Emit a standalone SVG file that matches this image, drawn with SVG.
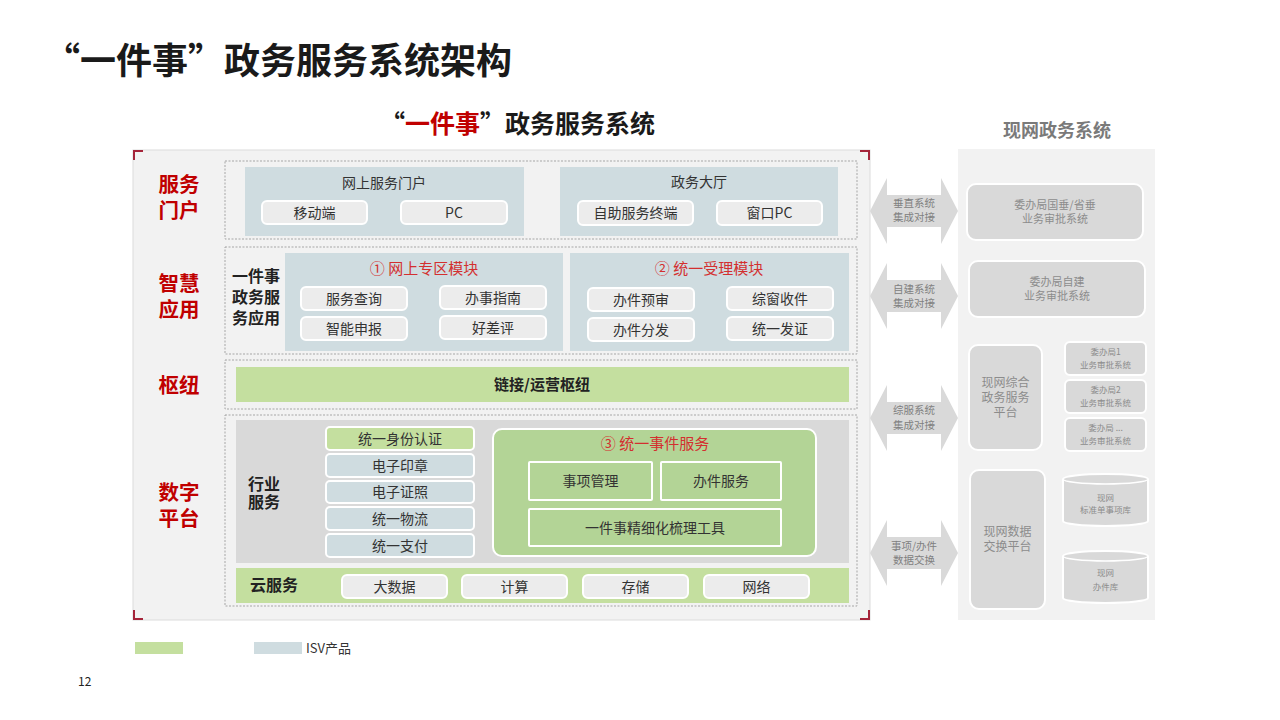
<svg xmlns="http://www.w3.org/2000/svg" width="1280" height="720" viewBox="0 0 1280 720">
<defs>
<style>
text{font-family:"Noto Sans CJK SC","Liberation Sans",sans-serif;}
.t{font-size:14px;fill:#333;text-anchor:middle;}
.red{font-weight:700;font-size:20.5px;fill:#c00000;text-anchor:middle;}
.mod{font-size:15px;fill:#d32f2f;text-anchor:middle;}
.bold{font-weight:700;font-size:16px;fill:#222;}
.btn{fill:#ececec;stroke:#fff;stroke-width:2;}
.isv{fill:#cfdce0;}
.isvb{fill:#cfdce0;stroke:#fff;stroke-width:2;}
.grn{fill:#c4df9f;}
.grnb{fill:#c4df9f;stroke:#fff;stroke-width:2;}
.evt{fill:#b3d496;stroke:#fff;stroke-width:2;}
.row{fill:#f2f2f2;stroke:#a6a6a6;stroke-width:1;stroke-dasharray:2 1.5;}
.corner{fill:none;stroke:#a5243a;stroke-width:2;}
.arr{fill:#d9d9d9;}
.at{font-size:10.5px;fill:#808080;text-anchor:middle;}
.rbox{fill:#d9d9d9;stroke:#fff;stroke-width:2;}
.rt{font-size:11px;fill:#8c8c8c;text-anchor:middle;}
.rs{font-size:8.5px;fill:#8c8c8c;text-anchor:middle;}
.sa{fill:#666;}
</style>
<path id="bigArrow" d="M-44,0 L-27,-33 L-27,-16 L27,-16 L27,-33 L44,0 L27,33 L27,16 L-27,16 L-27,33 Z"/>
<path id="smallArrow" d="M-9,0 L-3,-4 L-3,-1.5 L3,-1.5 L3,-4 L9,0 L3,4 L3,1.5 L-3,1.5 L-3,4 Z"/>
</defs>
<rect width="1280" height="720" fill="#fff"/>

<g id="title">
<text x="44" y="74" style="font-size:36px;font-weight:700;fill:#1a1a1a;">“一件事”政务服务系统架构</text>
</g>
<g id="subtitle">
<text x="380" y="133" style="font-size:25px;font-weight:700;fill:#1a1a1a;">“<tspan fill="#c00000">一件事</tspan>”政务服务系统</text>
</g>

<g id="frame">
<rect x="133" y="150" width="737" height="470" fill="#f2f2f2" stroke="#dcdcdc" stroke-width="1"/>
<path class="corner" d="M134,160 V151 H143"/>
<path class="corner" d="M860,151 H869 V160"/>
<path class="corner" d="M134,610 V619 H143"/>
<path class="corner" d="M860,619 H869 V610"/>
</g>

<g id="labels">
<text class="red"><tspan x="179" y="192">服务</tspan><tspan x="179" y="218">门户</tspan></text>
<text class="red"><tspan x="179" y="291">智慧</tspan><tspan x="179" y="317">应用</tspan></text>
<text class="red" x="179" y="393">枢纽</text>
<text class="red"><tspan x="179" y="500">数字</tspan><tspan x="179" y="526">平台</tspan></text>
</g>

<g id="row-portal">
<rect class="row" x="225" y="161" width="632" height="78"/>
<rect class="isv" x="245" y="167" width="279" height="69"/>
<rect class="isv" x="560" y="167" width="278" height="69"/>
<text class="t" x="384" y="188">网上服务门户</text>
<text class="t" x="699" y="187">政务大厅</text>
<rect class="btn" x="262" y="201" width="105" height="23" rx="5"/>
<text class="t" x="314.5" y="217.5">移动端</text>
<rect class="btn" x="401" y="201" width="106" height="23" rx="5"/>
<text class="t" x="454" y="217.5">PC</text>
<rect class="btn" x="578" y="201" width="115" height="24" rx="5"/>
<text class="t" x="635.5" y="218">自助服务终端</text>
<rect class="btn" x="717" y="201" width="105" height="24" rx="5"/>
<text class="t" x="769.5" y="218">窗口PC</text>
</g>

<g id="row-apps">
<rect class="row" x="225" y="247" width="632" height="107"/>
<text class="bold" text-anchor="middle"><tspan x="256" y="282">一件事</tspan><tspan x="256" y="303">政务服</tspan><tspan x="256" y="324">务应用</tspan></text>
</g>

<g id="module-1">
<rect class="isv" x="285" y="253" width="278" height="98"/>
<text class="mod" x="424" y="274">① 网上专区模块</text>
<rect class="btn" x="301" y="287" width="106" height="23" rx="5"/>
<text class="t" x="354" y="303.5">服务查询</text>
<rect class="btn" x="301" y="317" width="106" height="23" rx="5"/>
<text class="t" x="354" y="333.5">智能申报</text>
<rect class="btn" x="440" y="286" width="106" height="23" rx="5"/>
<text class="t" x="493" y="302.5">办事指南</text>
<rect class="btn" x="440" y="316" width="106" height="23" rx="5"/>
<text class="t" x="493" y="332.5">好差评</text>
</g>

<g id="module-2">
<rect class="isv" x="570" y="253" width="279" height="98"/>
<text class="mod" x="709" y="274">② 统一受理模块</text>
<rect class="btn" x="588" y="288" width="106" height="23" rx="5"/>
<text class="t" x="641" y="304.5">办件预审</text>
<rect class="btn" x="588" y="318" width="106" height="23" rx="5"/>
<text class="t" x="641" y="334.5">办件分发</text>
<rect class="btn" x="727" y="287" width="106" height="23" rx="5"/>
<text class="t" x="780" y="303.5">综窗收件</text>
<rect class="btn" x="727" y="317" width="106" height="23" rx="5"/>
<text class="t" x="780" y="333.5">统一发证</text>
</g>

<g id="row-hub">
<rect class="row" x="225" y="360" width="632" height="49"/>
<rect class="grn" x="236" y="367" width="613" height="35"/>
<text x="542" y="390" style="font-size:15px;font-weight:700;fill:#222;text-anchor:middle;">链接/运营枢纽</text>
</g>

<g id="row-platform">
<rect class="row" x="225" y="415" width="632" height="191"/>
<rect x="236" y="420" width="613" height="143" fill="#d9d9d9"/>
<text class="bold"><tspan x="248" y="490">行业</tspan><tspan x="248" y="508">服务</tspan></text>
</g>

<g id="industry-services">
<rect class="grnb" x="326" y="427" width="148" height="23" rx="4"/>
<text class="t" x="400" y="443.5">统一身份认证</text>
<rect class="isvb" x="326" y="454" width="148" height="23" rx="4"/>
<text class="t" x="400" y="470.5">电子印章</text>
<rect class="isvb" x="326" y="481" width="148" height="22" rx="4"/>
<text class="t" x="400" y="497">电子证照</text>
<rect class="isvb" x="326" y="507" width="148" height="23" rx="4"/>
<text class="t" x="400" y="523.5">统一物流</text>
<rect class="isvb" x="326" y="534" width="148" height="23" rx="4"/>
<text class="t" x="400" y="550.5">统一支付</text>
</g>

<g id="event-service">
<rect class="evt" x="493" y="429" width="323" height="127" rx="9"/>
<text class="mod" x="655" y="449">③ 统一事件服务</text>
<rect class="evt" x="529" y="462" width="123" height="38" rx="1"/>
<text class="t" x="590.5" y="486">事项管理</text>
<rect class="evt" x="661" y="462" width="120" height="38" rx="1"/>
<text class="t" x="721" y="486">办件服务</text>
<rect class="evt" x="529" y="509" width="252" height="37" rx="1"/>
<text class="t" x="655" y="532.5">一件事精细化梳理工具</text>
</g>

<g id="cloud">
<rect class="grn" x="236" y="568" width="613" height="35"/>
<text class="bold" x="250" y="591">云服务</text>
<rect class="btn" x="342" y="575" width="105" height="23" rx="5"/>
<text class="t" x="394.5" y="591.5">大数据</text>
<rect class="btn" x="462" y="575" width="105" height="23" rx="5"/>
<text class="t" x="514.5" y="591.5">计算</text>
<rect class="btn" x="583" y="575" width="105" height="23" rx="5"/>
<text class="t" x="635.5" y="591.5">存储</text>
<rect class="btn" x="704" y="575" width="105" height="23" rx="5"/>
<text class="t" x="756.5" y="591.5">网络</text>
</g>

<g id="connectors">
<use href="#bigArrow" class="arr" x="914" y="211"/>
<text class="at"><tspan x="914" y="207">垂直系统</tspan><tspan x="914" y="221">集成对接</tspan></text>
<use href="#bigArrow" class="arr" x="914" y="296"/>
<text class="at"><tspan x="914" y="293">自建系统</tspan><tspan x="914" y="307">集成对接</tspan></text>
<use href="#bigArrow" class="arr" x="914" y="418"/>
<text class="at"><tspan x="914" y="414">综服系统</tspan><tspan x="914" y="429">集成对接</tspan></text>
<use href="#bigArrow" class="arr" x="914" y="553"/>
<text class="at"><tspan x="914" y="550">事项/办件</tspan><tspan x="914" y="564">数据交换</tspan></text>
<use href="#smallArrow" class="sa" x="1054" y="360"/>
<use href="#smallArrow" class="sa" x="1054" y="397"/>
<use href="#smallArrow" class="sa" x="1054" y="435"/>
<use href="#smallArrow" class="sa" x="1054" y="502"/>
<use href="#smallArrow" class="sa" x="1054" y="578"/>
</g>

<g id="existing-panel">
<text x="1057" y="137" style="font-size:18px;font-weight:700;fill:#7a7a7a;text-anchor:middle;">现网政务系统</text>
<rect x="958" y="149" width="197" height="471" fill="#f2f2f2"/>
</g>

<g id="vertical-system">
<rect class="rbox" x="967" y="184" width="176" height="56" rx="9"/>
<text class="rt"><tspan x="1055" y="209">委办局国垂/省垂</tspan><tspan x="1055" y="223">业务审批系统</tspan></text>
</g>
<g id="self-built-system">
<rect class="rbox" x="969" y="261" width="176" height="56" rx="9"/>
<text class="rt"><tspan x="1057" y="286">委办局自建</tspan><tspan x="1057" y="300">业务审批系统</tspan></text>
</g>
<g id="integrated-platform">
<rect class="rbox" x="969" y="345" width="73" height="105" rx="9"/>
<text class="rt" style="font-size:12px"><tspan x="1005.5" y="387">现网综合</tspan><tspan x="1005.5" y="402">政务服务</tspan><tspan x="1005.5" y="417">平台</tspan></text>
</g>
<g id="bureau-1">
<rect class="rbox" x="1065" y="342" width="81" height="33" rx="5"/>
<text class="rs"><tspan x="1105.5" y="355">委办局1</tspan><tspan x="1105.5" y="368">业务审批系统</tspan></text>
</g>
<g id="bureau-2">
<rect class="rbox" x="1065" y="380" width="81" height="33" rx="5"/>
<text class="rs"><tspan x="1105.5" y="393">委办局2</tspan><tspan x="1105.5" y="406">业务审批系统</tspan></text>
</g>
<g id="bureau-n">
<rect class="rbox" x="1065" y="418" width="81" height="33" rx="5"/>
<text class="rs"><tspan x="1105.5" y="431">委办局 ...</tspan><tspan x="1105.5" y="444">业务审批系统</tspan></text>
</g>
<g id="exchange-platform">
<rect class="rbox" x="970" y="470" width="75" height="139" rx="9"/>
<text class="rt" style="font-size:12px"><tspan x="1007.5" y="536">现网数据</tspan><tspan x="1007.5" y="551">交换平台</tspan></text>
</g>
<g id="item-db">
<path class="rbox" d="M1063,479 A42.5,5 0 0 1 1148,479 V521 A42.5,5 0 0 1 1063,521 Z"/>
<path d="M1063,479 A42.5,5 0 0 0 1148,479" fill="none" stroke="#fff" stroke-width="1.5"/>
<text class="rs"><tspan x="1105.5" y="501">现网</tspan><tspan x="1105.5" y="513">标准单事项库</tspan></text>
</g>
<g id="case-db">
<path class="rbox" d="M1063,556 A42.5,5 0 0 1 1148,556 V598 A42.5,5 0 0 1 1063,598 Z"/>
<path d="M1063,556 A42.5,5 0 0 0 1148,556" fill="none" stroke="#fff" stroke-width="1.5"/>
<text class="rs"><tspan x="1105.5" y="576">现网</tspan><tspan x="1105.5" y="590">办件库</tspan></text>
</g>

<g id="legend">
<rect class="grn" x="135" y="642" width="48" height="12"/>
<rect class="isv" x="254" y="642" width="48" height="12"/>
<text x="306" y="653" style="font-size:13px;fill:#333;">ISV产品</text>
<text x="78" y="686" style="font-size:12px;fill:#222;">12</text>
</g>
</svg>
